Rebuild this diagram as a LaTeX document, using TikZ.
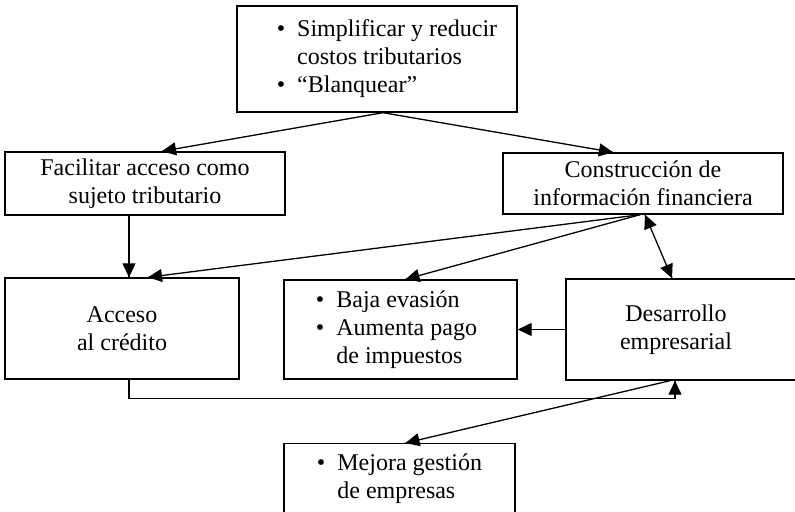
\documentclass[tikz,border=0pt]{standalone}
\usepackage{fontspec}
\setmainfont{Liberation Serif}
\usepackage{tikz}
\usetikzlibrary{calc}
\usetikzlibrary{arrows.meta}
\usetikzlibrary{decorations.markings}

\tikzset{
  box/.style={draw, line width=0.7pt, align=center,
    font=\fontsize{12}{14}\selectfont},
  link/.style={line width=0.65pt},
  tip end/.style={postaction={decorate, decoration={
    markings,
    mark=at position 1.0 with {\arrow{Triangle[length=7pt,width=6.5pt]}}}}},
  tip start/.style={postaction={decorate, decoration={
    markings,
    mark=at position 0.0 with {\arrowreversed{Triangle[length=7pt,width=6.5pt]}}}}},
}
\newcommand{\bulletlist}[1]{\begin{tabular}{@{}l@{\hspace{6pt}}l@{}}#1\end{tabular}}

\begin{document}
\begin{tikzpicture}[x=0.5pt,y=-0.5pt]
% just to have nice boundaries to the picture
\useasboundingbox (0,0) rectangle (795,512);

%%%%%%%%%%%%%%%%%%%%%%%%%%%%%%%%%%%%%%%%%%%%%%%%%%%%%%%%%%%%%% Boxes
\node[box, minimum width=140pt, minimum height=53pt] (top) at (377,59)
  {\hspace*{10pt}\bulletlist{\textbullet & Simplificar y reducir\\ & costos tributarios\\ \textbullet & “Blanquear”}};

\node[box, minimum width=140pt, minimum height=30.5pt] (facil) at (145,183.5)
  {Facilitar acceso como\\sujeto tributario};
\node[box, minimum width=140pt, minimum height=30.5pt] (constr) at (643,183.5)
  {Construcción de\\información financiera};

\node[box, minimum width=117pt, minimum height=50.5pt] (acceso) at (122,328.5)
  {Acceso\\al crédito};
\node[box, minimum width=116.5pt, minimum height=49.5pt] (baja) at (400.5,329.5)
  {\hspace*{-4pt}\bulletlist{\textbullet & Baja evasión\\ \textbullet & Aumenta pago\\ & de impuestos}};
\node[box, minimum width=117pt, minimum height=50.5pt] (desarr) at (683,329.5)
  {\hspace*{-7pt}Desarrollo\\\hspace*{-7pt}empresarial};

% box runs past the lower edge
\node[box, anchor=north, inner xsep=0pt, inner ysep=3.7pt] (mejora) at (399.5,443)
  {\parbox[c][40pt][t]{115.5pt}{\centering\bulletlist{\textbullet & Mejora gestión\\ & de empresas}}};

%%%%%%%%%%%%%%%%%%%%%%%%%%%%%%%%%%%%%%%%%%%%%%%%%%%%%%%%%%%%%% Links
\draw[link, tip end] ($(top.south)+(6,0)$) -- ($(facil.north)+(17,0)$);
\draw[link, tip end] ($(top.south)+(6,0)$) -- ($(constr.north)+(-30,0)$);

\coordinate (aIn) at ($(acceso.north)+(7,0)$);
\draw[link, tip end] (aIn |- facil.south) -- (aIn);

\coordinate (cOut) at ($(constr.south)+(-3,0)$);
\draw[link, tip end] (cOut) -- ($(acceso.north)+(26,0)$);
\draw[link, tip end] (cOut) -- ($(baja.north)+(5,0)$);
\draw[link, tip start, tip end] ($(constr.south)+(2,0)$) -- ($(desarr.north)+(-11,0)$);

\draw[link, tip end] (desarr.west) -- (baja.east);

\draw[link, tip end] ($(acceso.south)+(7,0)$) -- ++(0,19) -| ($(desarr.south)+(-8,0)$);
\draw[link, tip end] ($(desarr.south)+(-13,0)$) -- ($(mejora.north)+(6,0)$);

\end{tikzpicture}
\end{document}
